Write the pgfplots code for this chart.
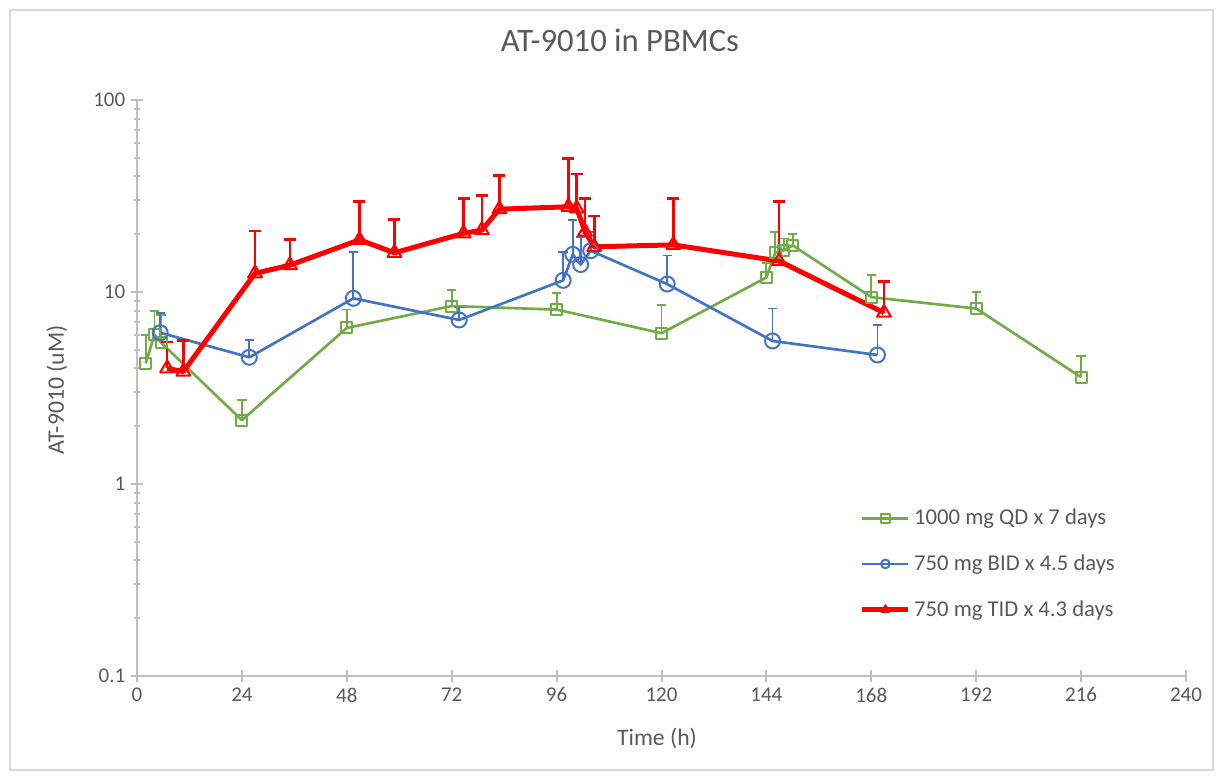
\documentclass[border=0pt]{standalone}
\usepackage{fontspec}
\setmainfont{Carlito}
\usepackage{pgfplots}
\usepackage{pgfplotstable}
\pgfplotsset{compat=1.18}
\definecolor{cgreen}{HTML}{70AD47}
\definecolor{cblue}{HTML}{4472C4}
\definecolor{cred}{HTML}{FF0000}
\definecolor{ctext}{HTML}{595959}
\definecolor{caxis}{HTML}{BFBFBF}
\definecolor{cframe}{HTML}{D9D9D9}

\pgfplotstableread{
x y e
2 4.25 1.72
4 6.0 2.0
5.5 5.45 2.15
24 2.15 0.59
48 6.5 1.6
72 8.45 1.75
96 8.1 1.75
120 6.1 2.5
144 11.9 2.2
146 16.0 4.6
148 16.5 2.5
150 17.5 2.5
168 9.4 2.9
192 8.2 1.8
216 3.6 1.06
}\greendata

\pgfplotstableread{
x y e
5.3 6.14 1.66
25.7 4.57 1.05
49.5 9.27 6.93
73.7 7.15 1.15
97.5 11.5 4.6
99.7 15.7 8.0
101.5 13.9 5.5
103.8 16.4 4.1
121.3 11.0 4.5
145.4 5.56 2.64
169.4 4.7 2.0
}\bluedata

\pgfplotstableread{
x y e
6.9 4.0 1.5
10.6 3.85 1.75
27 12.5 8.3
35 13.8 4.9
50.9 18.7 10.8
58.9 16.0 7.9
74.7 20.2 10.6
78.9 21.0 10.7
82.9 27.0 13.5
98.7 27.8 21.9
100.6 27.3 13.9
102.5 20.6 10.2
104.6 17.2 7.7
122.7 17.6 13.2
146.9 14.5 15.0
170.9 7.8 3.5
}\reddata

\begin{document}
\begin{tikzpicture}
\useasboundingbox (0,0) rectangle (730.2pt,466.2pt);
\draw[cframe, line width=1.2pt] (6pt,4.2pt) rectangle (727.8pt,460.2pt);
\begin{axis}[
  at={(82.2pt,60.6pt)}, anchor=south west,
  scale only axis, width=629.4pt, height=345.6pt,
  ymode=log,
  xmin=0, xmax=240, ymin=0.1, ymax=100,
  xtick={0,24,...,240},
  ytick={0.1,1,10,100},
  yticklabels={0.1,1,10,100},
  minor ytick={0.2,0.3,0.4,0.5,0.6,0.7,0.8,0.9,2,3,4,5,6,7,8,9,20,30,40,50,60,70,80,90},
  axis x line*=bottom, axis y line*=left,
  axis line style={draw=caxis, line width=1.2pt, -},
  tick style={draw=caxis, line width=1.2pt},
  tick align=center,
  major tick length=7pt,
  minor tick length=4pt,
  ticklabel style={font=\fontsize{12.6}{15}\selectfont, text=ctext},
  /pgf/number format/assume math mode=true,
  title={AT-9010 in PBMCs},
  title style={at={(axis description cs:0.4604,1.0868)}, anchor=center, font=\fontsize{19.6}{23}\selectfont, text=ctext},
  xlabel={Time (h)},
  xlabel style={at={(axis description cs:0.4957,-0.1076)}, anchor=center, font=\fontsize{14.2}{17}\selectfont, text=ctext},
  ylabel={AT-9010 (uM)},
  ylabel style={at={(axis description cs:-0.0763,0.4965)}, anchor=center, rotate=0, font=\fontsize{14.2}{17}\selectfont, text=ctext},
  legend style={at={(axis description cs:0.684,0.302)}, anchor=north west, draw=none, fill=none,
    font=\fontsize{13.6}{16}\selectfont, text=ctext, row sep=12.5pt},
  legend cell align=left,
  legend image code/.code={\draw[mark repeat=2,mark phase=2,mark size=2.6pt] plot coordinates {(0pt,0pt) (13.8pt,0pt) (27.6pt,0pt)};},
  line join=round,
]
\addplot[color=cgreen, line width=1.6pt, mark=square, mark size=3.3pt, mark options={line width=1.2pt, solid},
  error bars/.cd, y dir=plus, y explicit, error bar style={line width=1.1pt, cgreen}, error mark options={rotate=90, line width=1.1pt, mark size=2.8pt, cgreen}]
  table[x=x, y=y, y error=e]{\greendata};
\addlegendentry{1000 mg QD x 7 days}
\addplot[color=cblue, line width=1.6pt, mark=o, mark size=4.5pt, mark options={line width=1.2pt, solid},
  error bars/.cd, y dir=plus, y explicit, error bar style={line width=1.1pt, cblue}, error mark options={rotate=90, line width=1.1pt, mark size=2.8pt, cblue}]
  table[x=x, y=y, y error=e]{\bluedata};
\addlegendentry{750 mg BID x 4.5 days}
\addplot[color=cred, line width=3pt, mark=triangle, mark size=4.8pt, mark options={line width=1.2pt, solid},
  error bars/.cd, y dir=plus, y explicit, error bar style={line width=1.6pt, cred}, error mark options={rotate=90, line width=1.6pt, mark size=3.6pt, cred}]
  table[x=x, y=y, y error=e]{\reddata};
\addlegendentry{750 mg TID x 4.3 days}
\end{axis}
\end{tikzpicture}
\end{document}
